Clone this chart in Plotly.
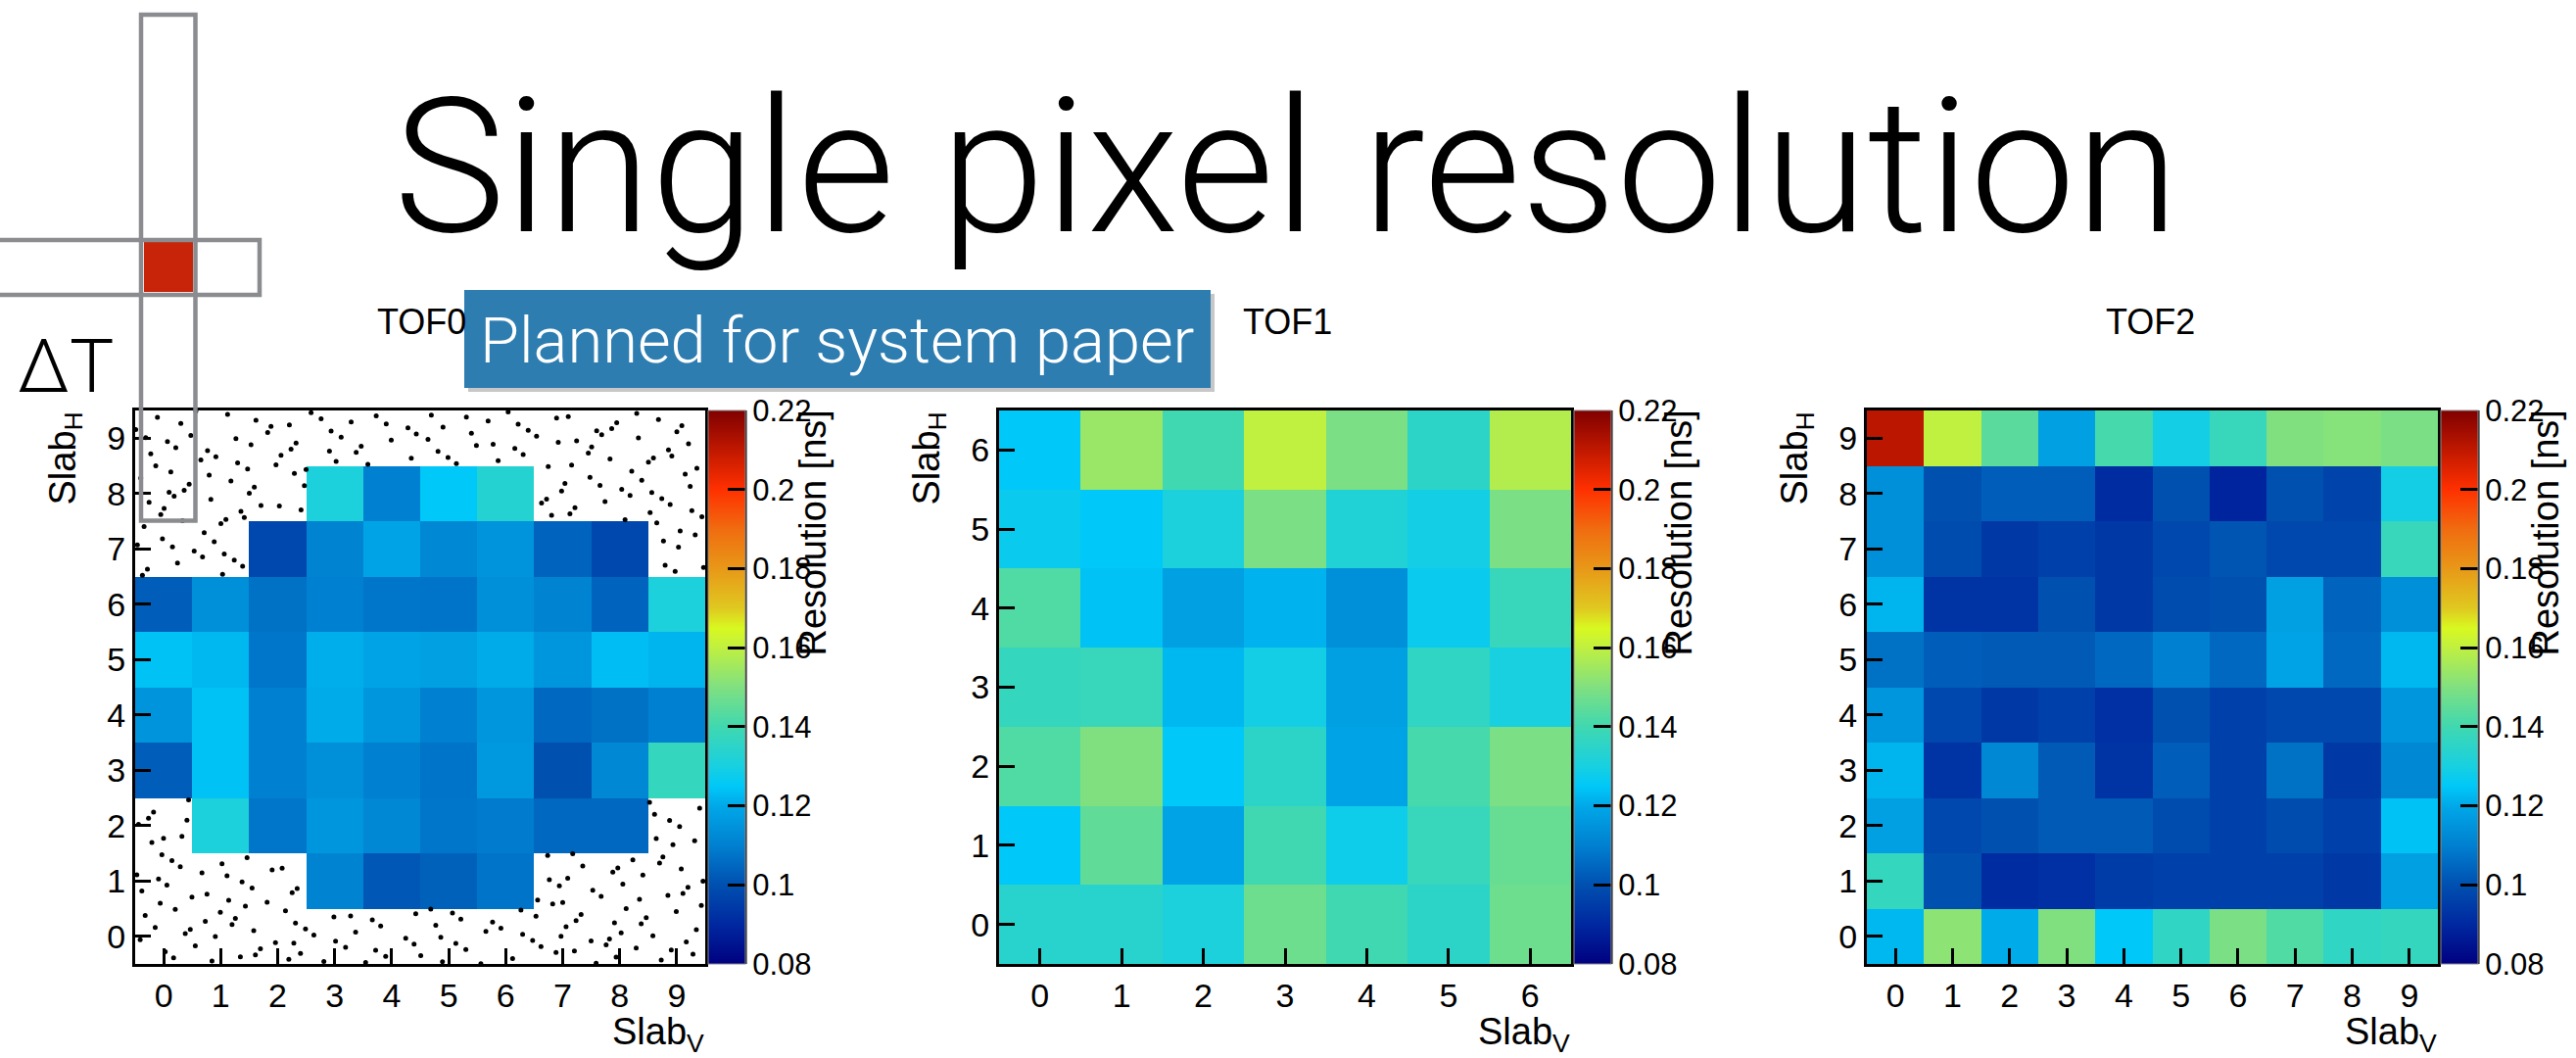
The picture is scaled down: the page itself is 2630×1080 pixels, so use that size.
import plotly.graph_objects as go

W, H = 2630, 1080
nan = None

# ---- data: time resolution per slab crossing [ns], rows run Slab_H = 0 (bottom) upward ----
slabs10 = list(range(10))
slabs7 = list(range(7))

tof0_res = [
    [nan, nan, nan, nan, nan, nan, nan, nan, nan, nan],
    [nan, nan, nan, 0.111, 0.1015, 0.1035, 0.1075, nan, nan, nan],
    [nan, 0.131, 0.108, 0.1155, 0.112, 0.108, 0.109, 0.105, 0.105, nan],
    [0.103, 0.124, 0.110, 0.114, 0.110, 0.1075, 0.116, 0.100, 0.112, 0.137],
    [0.115, 0.124, 0.110, 0.1205, 0.1155, 0.110, 0.1155, 0.105, 0.107, 0.110],
    [0.124, 0.1225, 0.108, 0.121, 0.119, 0.118, 0.1205, 0.1155, 0.1235, 0.122],
    [0.103, 0.114, 0.107, 0.110, 0.108, 0.1075, 0.114, 0.111, 0.104, 0.131],
    [nan, nan, 0.098, 0.111, 0.119, 0.112, 0.115, 0.104, 0.098, nan],
    [nan, nan, nan, 0.131, 0.110, 0.125, 0.133, nan, nan, nan],
    [nan, nan, nan, nan, nan, nan, nan, nan, nan, nan],
]

tof1_res = [
    [0.134, 0.134, 0.131, 0.147, 0.140, 0.135, 0.147],
    [0.125, 0.145, 0.119, 0.140, 0.128, 0.138, 0.146],
    [0.1425, 0.150, 0.125, 0.135, 0.119, 0.141, 0.149],
    [0.137, 0.138, 0.1225, 0.129, 0.118, 0.136, 0.130],
    [0.1425, 0.124, 0.118, 0.1215, 0.114, 0.127, 0.138],
    [0.127, 0.125, 0.131, 0.149, 0.132, 0.129, 0.149],
    [0.125, 0.154, 0.140, 0.160, 0.149, 0.135, 0.158],
]

tof2_res = [
    [0.1225, 0.152, 0.1205, 0.150, 0.125, 0.136, 0.149, 0.1425, 0.136, 0.137],
    [0.137, 0.100, 0.091, 0.092, 0.095, 0.096, 0.096, 0.096, 0.094, 0.118],
    [0.118, 0.098, 0.100, 0.102, 0.102, 0.099, 0.096, 0.099, 0.096, 0.124],
    [0.122, 0.093, 0.112, 0.102, 0.093, 0.103, 0.096, 0.107, 0.094, 0.112],
    [0.1155, 0.098, 0.094, 0.096, 0.092, 0.100, 0.096, 0.098, 0.098, 0.1155],
    [0.107, 0.103, 0.102, 0.102, 0.105, 0.110, 0.105, 0.119, 0.105, 0.1225],
    [0.122, 0.093, 0.093, 0.100, 0.094, 0.099, 0.100, 0.118, 0.104, 0.114],
    [0.114, 0.099, 0.094, 0.096, 0.094, 0.098, 0.101, 0.098, 0.098, 0.138],
    [0.114, 0.100, 0.103, 0.103, 0.091, 0.100, 0.089, 0.100, 0.097, 0.129],
    [0.211, 0.160, 0.144, 0.118, 0.141, 0.129, 0.138, 0.150, 0.151, 0.149],
]

z_min, z_max = 0.08, 0.22
cbar_ticks = [0.08, 0.10, 0.12, 0.14, 0.16, 0.18, 0.20, 0.22]
cbar_labels = ["0.08", "0.1", "0.12", "0.14", "0.16", "0.18", "0.2", "0.22"]
panel_titles = ["TOF0", "TOF1", "TOF2"]

# rainbow palette (ROOT style)
rainbow = [
    [0.0000, "rgb(0,0,128)"],
    [0.0714, "rgb(0,40,160)"],
    [0.1429, "rgb(0,80,176)"],
    [0.2143, "rgb(0,128,208)"],
    [0.2857, "rgb(0,168,232)"],
    [0.3214, "rgb(0,200,248)"],
    [0.3571, "rgb(24,208,224)"],
    [0.4286, "rgb(64,216,176)"],
    [0.5000, "rgb(128,224,128)"],
    [0.5714, "rgb(192,240,64)"],
    [0.6071, "rgb(216,248,32)"],
    [0.6429, "rgb(224,200,32)"],
    [0.7143, "rgb(232,152,24)"],
    [0.7857, "rgb(240,108,16)"],
    [0.8571, "rgb(255,48,0)"],
    [0.9286, "rgb(192,24,0)"],
    [1.0000, "rgb(128,0,0)"],
]

# ---- layout geometry (pixels) ----
frames = [(138, 720), (1020, 1604), (1906, 2489)]
top_px, bot_px = 419, 984
cbar_w = 38
cbar_gap = 3
pad_centers = [430, 1314, 2195]


def px(x):
    return x / W


def py(y):
    return 1 - y / H


SANS = "Liberation Sans, Arial, sans-serif"
TICK_FONT = dict(family=SANS, size=34, color="black")
CBAR_FONT = dict(family=SANS, size=31, color="black")
TITLE_FONT = dict(family=SANS, size=38, color="black")
LIGHT = "Roboto, 'Open Sans', sans-serif"

fig = go.Figure()

datasets = [(tof0_res, slabs10, slabs10), (tof1_res, slabs7, slabs7), (tof2_res, slabs10, slabs10)]

for i, (z, xs, ys) in enumerate(datasets):
    sfx = "" if i == 0 else str(i + 1)
    left, right = frames[i]
    fig.add_trace(go.Heatmap(
        z=z, x=xs, y=ys, xaxis="x" + sfx, yaxis="y" + sfx,
        zmin=z_min, zmax=z_max, colorscale=rainbow, hoverongaps=False,
        colorbar=dict(
            x=px(right + cbar_gap), xanchor="left", xpad=0,
            y=py((top_px + bot_px) / 2), yanchor="middle", ypad=0,
            len=(bot_px - top_px) / H, lenmode="fraction",
            thickness=cbar_w, thicknessmode="pixels",
            outlinewidth=1, outlinecolor="#8a8a8a",
            tickvals=cbar_ticks, ticktext=cbar_labels,
            ticks="inside", ticklen=18, tickwidth=3, tickcolor="black",
            tickfont=CBAR_FONT,
        ),
    ))
    n = len(xs)
    axis_common = dict(
        range=[-0.5, n - 0.5], tickvals=list(range(n)), ticks="inside",
        ticklen=16, tickwidth=3, tickcolor="black", showline=True,
        linewidth=3, linecolor="black", mirror=True, showgrid=False,
        zeroline=False, tickfont=TICK_FONT, fixedrange=True,
    )
    fig.update_layout(**{
        "xaxis" + sfx: dict(axis_common, domain=[px(left), px(right)], anchor="y" + sfx),
        "yaxis" + sfx: dict(axis_common, domain=[py(bot_px), py(top_px)], anchor="x" + sfx),
    })


# scatter-style fill marking the TOF0 slab crossings without a fitted resolution
def halton(k, base):
    f, r = 1.0, 0.0
    while k > 0:
        f /= base
        r += f * (k % base)
        k //= base
    return r


dot_x, dot_y = [], []
for k in range(1, 820):
    u = -0.5 + 10 * halton(k, 2)
    v = -0.5 + 10 * halton(k, 3)
    col, row = int(round(u)), int(round(v))
    col, row = min(max(col, 0), 9), min(max(row, 0), 9)
    if tof0_res[row][col] is None:
        dot_x.append(u)
        dot_y.append(v)

fig.add_trace(go.Scatter(
    x=dot_x, y=dot_y, xaxis="x", yaxis="y", mode="markers",
    marker=dict(size=5, color="black"), hoverinfo="skip", showlegend=False,
))

shapes = []
annotations = []

for i in range(3):
    left, right = frames[i]
    cb_right = right + cbar_gap + cbar_w
    # black axis edge of the colour scale
    shapes.append(dict(type="line", xref="paper", yref="paper",
                       x0=px(cb_right), x1=px(cb_right), y0=py(bot_px), y1=py(top_px),
                       line=dict(color="black", width=3)))
    annotations.append(dict(text="Slab<sub>H</sub>", textangle=-90, xref="paper", yref="paper",
                            x=px(left - 72), y=py(top_px), xanchor="center", yanchor="top",
                            showarrow=False, font=TITLE_FONT))
    annotations.append(dict(text="Slab<sub>V</sub>", xref="paper", yref="paper",
                            x=px(right), y=py(1081), xanchor="right", yanchor="bottom",
                            borderpad=0, showarrow=False, font=TITLE_FONT))
    annotations.append(dict(text="Resolution [ns]", textangle=-90, xref="paper", yref="paper",
                            x=px(cb_right + 68), y=py(top_px - 2), xanchor="center", yanchor="top",
                            showarrow=False, font=dict(TITLE_FONT, size=38)))
    annotations.append(dict(text=panel_titles[i], xref="paper", yref="paper",
                            x=px(pad_centers[i]), y=py(328), xanchor="center", yanchor="middle",
                            showarrow=False, font=dict(TITLE_FONT, size=36)))

# page heading
annotations.append(dict(text="Single pixel resolution", xref="paper", yref="paper",
                        x=px(400), y=py(170), xanchor="left", yanchor="middle", showarrow=False,
                        font=dict(family=LIGHT, size=192, color="black", weight=300)))

# banner
shapes.append(dict(type="rect", xref="paper", yref="paper", layer="above",
                   x0=px(478), x1=px(1240), y0=py(400), y1=py(300),
                   fillcolor="rgba(0,0,0,0.22)", line=dict(width=0)))
shapes.append(dict(type="rect", xref="paper", yref="paper", layer="above",
                   x0=px(474), x1=px(1236), y0=py(396), y1=py(296),
                   fillcolor="#2e7db1", line=dict(width=0)))
annotations.append(dict(text="Planned for system paper", xref="paper", yref="paper",
                        x=px(855), y=py(348), xanchor="center", yanchor="middle", showarrow=False,
                        font=dict(family=LIGHT, size=65, color="white", weight=300)))

# crossing-slab pictogram
shapes.append(dict(type="rect", xref="paper", yref="paper", layer="above",
                   x0=px(147), x1=px(197), y0=py(298), y1=py(247),
                   fillcolor="rgb(200,36,10)", line=dict(width=0)))
shapes.append(dict(type="rect", xref="paper", yref="paper", layer="above",
                   x0=px(-6), x1=px(265), y0=py(301), y1=py(245),
                   fillcolor="rgba(0,0,0,0)", line=dict(color="#8a8c90", width=4.5)))
shapes.append(dict(type="rect", xref="paper", yref="paper", layer="above",
                   x0=px(144), x1=px(199.5), y0=py(531.5), y1=py(15),
                   fillcolor="rgba(0,0,0,0)", line=dict(color="#8a8c90", width=4.5)))
annotations.append(dict(text="ΔT", xref="paper", yref="paper",
                        x=px(16), y=py(374), xanchor="left", yanchor="middle", showarrow=False,
                        font=dict(family=LIGHT, size=76, color="black", weight=300)))

fig.update_layout(
    width=W, height=H, margin=dict(l=0, r=0, t=0, b=0),
    paper_bgcolor="white", plot_bgcolor="white",
    showlegend=False, shapes=shapes, annotations=annotations,
)

fig.write_html("out.html")
